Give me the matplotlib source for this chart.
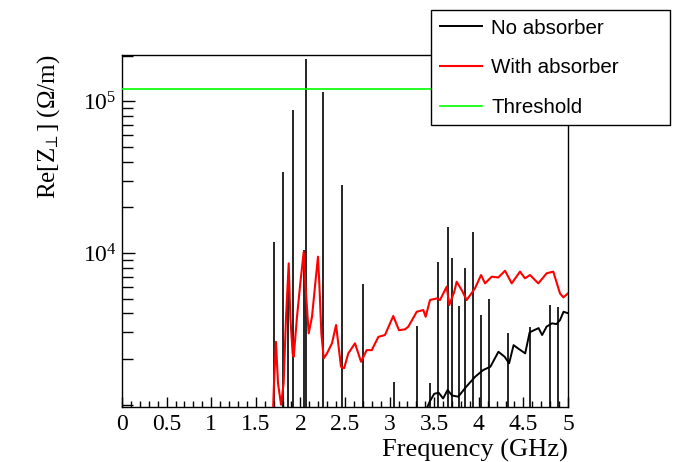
import numpy as np
import matplotlib
matplotlib.use("Agg")
import matplotlib.pyplot as plt
from matplotlib.ticker import FixedLocator, NullFormatter, LogFormatterMathtext, MultipleLocator, FixedFormatter

# ---------------- data ----------------
# "No absorber": narrow resonance spikes (frequency GHz, peak Re[Z] Ohm/m)
spike_freq = [1.707, 1.800, 1.861, 1.917, 2.037, 2.066, 2.250, 2.463, 2.698,
              3.053, 3.304, 3.453, 3.546, 3.659, 3.696, 3.782, 3.845, 3.931,
              4.025, 4.118, 4.330, 4.574, 4.798, 4.891]
spike_val = [11800, 34300, 5850, 87700, 10500, 189000, 115700, 28000, 6250,
             1410, 3300, 1385, 8770, 14900, 9270, 4480, 7930, 13800,
             3900, 4950, 2955, 3270, 4540, 4420]

# "No absorber": broadband part above ~3.4 GHz
cont_freq = [3.40, 3.45, 3.50, 3.55, 3.60, 3.65, 3.70, 3.77, 3.86, 3.96, 4.05,
             4.13, 4.22, 4.29, 4.34, 4.39, 4.44, 4.52, 4.57, 4.62, 4.67, 4.71,
             4.76, 4.82, 4.87, 4.91, 4.95, 5.00]
cont_val = [900, 1050, 1180, 1200, 1100, 1250, 1150, 1130, 1316, 1531, 1694,
            1780, 2234, 2070, 1875, 2470, 2350, 2180, 3000, 3100, 3200, 2880,
            3270, 3440, 3400, 3610, 4100, 4010]

# "With absorber"
abs_freq = [1.690, 1.704, 1.726, 1.749, 1.783, 1.812, 1.839, 1.869, 1.887, 1.913,
            1.925, 1.962, 1.999, 2.037, 2.055, 2.093, 2.130, 2.167, 2.197, 2.212,
            2.235, 2.261, 2.298, 2.354, 2.400, 2.455, 2.490, 2.537, 2.612, 2.680,
            2.743, 2.800, 2.874, 2.948, 3.041, 3.105, 3.173, 3.210, 3.304, 3.378,
            3.404, 3.453, 3.527, 3.565, 3.640, 3.669, 3.725, 3.752, 3.808, 3.864,
            3.957, 4.025, 4.070, 4.145, 4.219, 4.294, 4.369, 4.462, 4.518, 4.574,
            4.667, 4.761, 4.835, 4.910, 4.948, 5.000]
abs_val = [800, 1384, 2600, 1384, 1000, 1384, 3800, 8550, 3800, 2180,
           2070, 3800, 6310, 10200, 6310, 2955, 3800, 6310, 9460, 6310,
           2955, 2020, 2180, 2540, 3350, 1780, 1740, 2180, 2540, 1920,
           2290, 2290, 2800, 2880, 3845, 3100, 3140, 3270, 4100, 4210,
           3800, 4900, 5020, 4900, 6000, 4540, 5560, 6470, 5700, 4900,
           5850, 7160, 6310, 6980, 6900, 7640, 6310, 7540, 6810, 7160,
           6310, 7350, 7540, 5420, 5100, 5420]

threshold = 1.2e5
x_range = [0.0, 5.0]
y_range = [966, 2.02e5]
x_ticks = [0, 0.5, 1, 1.5, 2, 2.5, 3, 3.5, 4, 4.5, 5]
x_tick_labels = ["0", "0.5", "1", "1.5", "2", "2.5", "3", "3.5", "4", "4.5", "5"]
y_ticks = [1e4, 1e5]
legend_labels = ["No absorber", "With absorber", "Threshold"]

# ---------------- figure ----------------
serif = "Liberation Serif"
plt.rcParams["mathtext.fontset"] = "custom"
plt.rcParams["mathtext.rm"] = serif
plt.rcParams["mathtext.it"] = serif + ":italic"

W, H = 679, 462
fig = plt.figure(figsize=(W / 100, H / 100), dpi=100)
ax = fig.add_axes([122 / W, 1 - 407 / H, (568 - 122) / W, (407 - 55) / H])

ax.set_yscale("log")
ax.set_xlim(*x_range)
ax.set_ylim(*y_range)

ax.vlines(spike_freq, 100, spike_val, color="black", lw=1.2, zorder=2)
l_no, = ax.plot(cont_freq, cont_val, color="black", lw=1.4, zorder=2)
l_abs, = ax.plot(abs_freq, abs_val, color="#ff0000", lw=1.5, zorder=3)
l_thr, = ax.plot(x_range, [threshold, threshold], color="#00ff00", lw=1.2, zorder=3)

# ticks
ax.xaxis.set_major_locator(FixedLocator(x_ticks))
ax.xaxis.set_major_formatter(FixedFormatter(x_tick_labels))
ax.xaxis.set_minor_locator(MultipleLocator(0.1))
ax.yaxis.set_major_locator(FixedLocator(y_ticks))
ax.yaxis.set_major_formatter(LogFormatterMathtext())
minor = [m * 10 ** e for e in (3, 4, 5) for m in range(1, 10)]
ax.yaxis.set_minor_locator(FixedLocator(minor))
ax.yaxis.set_minor_formatter(NullFormatter())

ax.tick_params(axis="x", which="major", direction="in", length=7, width=1, pad=5,
               top=False, labelsize=17, labelfontfamily=serif)
ax.tick_params(axis="x", which="minor", direction="in", length=4, width=1, top=False)
ax.tick_params(axis="y", which="major", direction="in", length=9, width=1, pad=4,
               right=False, labelsize=17, labelfontfamily=serif)
ax.tick_params(axis="y", which="minor", direction="in", length=8, width=1, right=False)

for s in ax.spines.values():
    s.set_linewidth(1.0)

ax.set_xlabel("Frequency (GHz)", fontsize=19, fontfamily=serif, loc="right")
ax.xaxis.set_label_coords(1.0, -0.09)
ax.set_ylabel(r"Re[Z$_{\!\perp}$] ($\Omega$/m)", fontsize=18, fontfamily=serif, loc="top")
ax.yaxis.set_label_coords(-0.135, 1.0)

# legend
leg = fig.legend([l_no, l_abs, l_thr], legend_labels,
                 loc="upper left",
                 bbox_to_anchor=(431 / W, 1 - 126.7 / H, (670 - 431) / W, 116.7 / H),
                 bbox_transform=fig.transFigure, mode="expand",
                 prop={"family": "Liberation Sans", "size": 14.8},
                 frameon=True, fancybox=False, framealpha=1, edgecolor="black",
                 borderaxespad=0, handlelength=2.08, handletextpad=0.44,
                 labelspacing=1.0, borderpad=0.42)
leg.get_frame().set_linewidth(1.0)

fig.savefig("out.png", dpi=100)
